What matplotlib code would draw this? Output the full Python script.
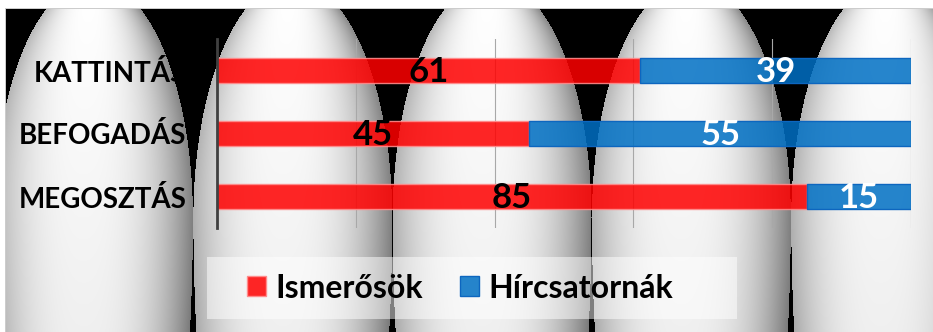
import numpy as np
import matplotlib.pyplot as plt
from matplotlib.patches import Patch, Rectangle

# adatok
categories = ["KATTINTÁS", "BEFOGADÁS", "MEGOSZTÁS"]
ismerosok = [61, 45, 85]
hircsatornak = [39, 55, 15]
series_names = ["Ismerősök", "Hírcsatornák"]

plt.rcParams['font.family'] = ['Lato', 'DejaVu Sans']

W, H = 933, 332
fig = plt.figure(figsize=(W / 100, H / 100), dpi=100)

# háttér: fekete alap, szürke-fehér "lövedék" alakzatokkal
yy, xx = np.mgrid[0:H, 0:W].astype(float)
img = np.zeros((H, W, 3))
yc = 217.0
dy = yc - yy
b = np.where(dy > 0, 237.0, 470.0)
prof = np.sqrt(np.clip(1 - (dy / b) ** 2, 0, 1))
for k in range(5):
    c = 93 + 199.3 * k
    w = 99.4 * prof
    u = (xx - c) / np.maximum(w, 1e-6)
    inside = (np.abs(u) <= 1) & (w > 0)
    shade = 1 - 0.36 * np.abs(u + 0.1) ** 2.6 - 0.06 * (yy / H)
    for ch in range(3):
        img[..., ch] = np.where(inside, shade, img[..., ch])
img = np.clip(img, 0, 1)
# fehér margó és keret
img[:8, :, :] = 1.0
img[:, :5, :] = 1.0
img[8, 5:, :] = 0.8
img[8:, 5, :] = 0.8

bg = fig.add_axes([0, 0, 1, 1])
bg.imshow(img, aspect='auto', extent=(0, W, H, 0), interpolation='bilinear')
bg.axis('off')

ax = fig.add_axes([217 / W, 1 - 228 / H, (911 - 217) / W, (228 - 39) / H])
ax.patch.set_alpha(0)

y = np.arange(len(categories))
red = (1.0, 0.0, 0.0, 0.85)
blue = (0.0, 0.44, 0.77, 0.85)
ax.barh(y, ismerosok, height=0.41, color=red, edgecolor=(1, 0.55, 0.55, 0.9), linewidth=1)
ax.barh(y, hircsatornak, left=ismerosok, height=0.41, color=blue, edgecolor=(0.05, 0.4, 0.75, 1), linewidth=1)

for i in range(len(categories)):
    a, h = ismerosok[i], hircsatornak[i]
    ax.text(a / 2, i + 0.03, str(a), ha='center', va='center', fontsize=25, fontweight='bold', color='black')
    ax.text(a + h / 2, i + 0.03, str(h), ha='center', va='center', fontsize=25, fontweight='bold', color='white')

ax.set_xlim(0, 100)
ax.set_ylim(2.5, -0.5)
ax.set_xticks(range(0, 101, 20))
ax.grid(axis='x', color='#a8a8a8', linewidth=0.8)
ax.set_axisbelow(True)
ax.tick_params(axis='x', length=0, labelbottom=False)
ax.tick_params(axis='y', length=0, pad=22)
ax.set_yticks(y)
ax.set_yticklabels(categories, fontsize=20, fontweight='bold')
for s in ['top', 'right', 'bottom']:
    ax.spines[s].set_visible(False)
ax.spines['left'].set_color('#404040')
ax.spines['left'].set_linewidth(2)

# jelmagyarázat
fig.patches.append(Rectangle((207 / W, 1 - 319 / H), 530 / W, 62 / H, transform=fig.transFigure,
                             facecolor='white', alpha=0.5, edgecolor='none', zorder=1))
handles = [Patch(facecolor=red, edgecolor=(1, 0.55, 0.55)), Patch(facecolor=blue, edgecolor=(0.05, 0.4, 0.75))]
fig.legend(handles, series_names, loc='center', bbox_to_anchor=(460 / W, 1 - 288 / H), ncol=2,
           frameon=False, prop={'size': 23, 'weight': 'bold'}, handlelength=0.6, handleheight=0.6,
           handletextpad=0.3, columnspacing=1.15)

fig.savefig('out.png', dpi=100)
